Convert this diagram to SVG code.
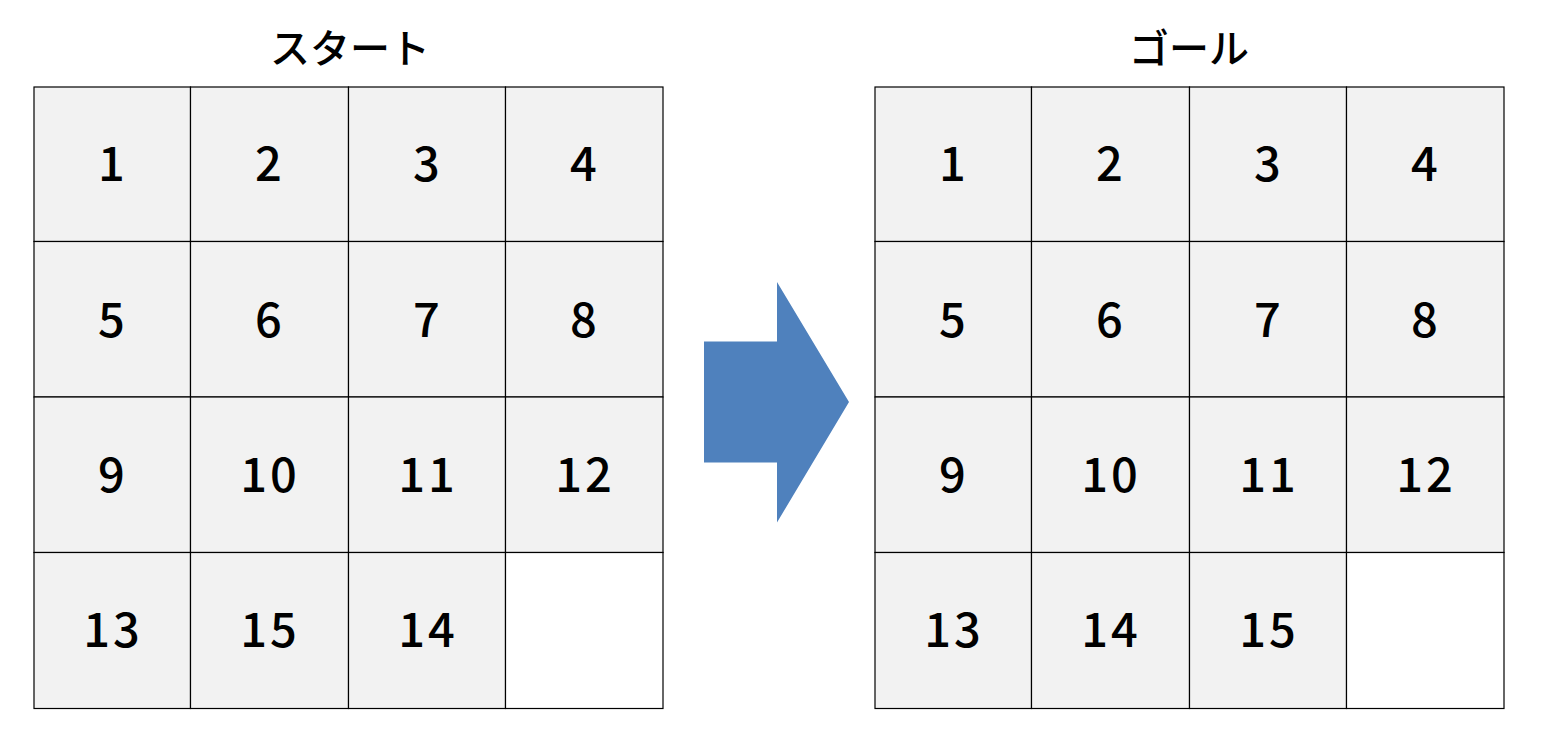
<svg xmlns="http://www.w3.org/2000/svg" width="1542" height="741" viewBox="0 0 1542 741">
<style>
.cell{fill:#F2F2F2;stroke:#000;stroke-width:1.2}
.empty{fill:#FFFFFF;stroke:#000;stroke-width:1.2}
.num{font-family:"Noto Sans CJK JP","Noto Sans",sans-serif;font-size:47px;font-weight:500;letter-spacing:3px;fill:#000;text-anchor:middle}
.title{font-family:"Noto Sans CJK JP",sans-serif;font-size:40px;font-weight:500;fill:#000;text-anchor:middle}
</style>
<rect width="1542" height="741" fill="#FFFFFF"/>
<g id="start-title"><text class="title" x="350" y="63">スタート</text></g>
<g id="goal-title"><text class="title" x="1189" y="63">ゴール</text></g>
<g id="start-grid">
<g id="s1"><rect class="cell" x="34" y="87" width="156.5" height="154.5"/><text class="num" x="113" y="181">1</text></g>
<g id="s2"><rect class="cell" x="190.5" y="87" width="158" height="154.5"/><text class="num" x="270" y="181">2</text></g>
<g id="s3"><rect class="cell" x="348.5" y="87" width="157" height="154.5"/><text class="num" x="428" y="181">3</text></g>
<g id="s4"><rect class="cell" x="505.5" y="87" width="157.5" height="154.5"/><text class="num" x="585" y="181">4</text></g>
<g id="s5"><rect class="cell" x="34" y="241.5" width="156.5" height="155.5"/><text class="num" x="113" y="337">5</text></g>
<g id="s6"><rect class="cell" x="190.5" y="241.5" width="158" height="155.5"/><text class="num" x="270" y="337">6</text></g>
<g id="s7"><rect class="cell" x="348.5" y="241.5" width="157" height="155.5"/><text class="num" x="428" y="337">7</text></g>
<g id="s8"><rect class="cell" x="505.5" y="241.5" width="157.5" height="155.5"/><text class="num" x="585" y="337">8</text></g>
<g id="s9"><rect class="cell" x="34" y="397" width="156.5" height="155.5"/><text class="num" x="113" y="492">9</text></g>
<g id="s10"><rect class="cell" x="190.5" y="397" width="158" height="155.5"/><text class="num" x="270" y="492">10</text></g>
<g id="s11"><rect class="cell" x="348.5" y="397" width="157" height="155.5"/><text class="num" x="428" y="492">11</text></g>
<g id="s12"><rect class="cell" x="505.5" y="397" width="157.5" height="155.5"/><text class="num" x="585" y="492">12</text></g>
<g id="s13"><rect class="cell" x="34" y="552.5" width="156.5" height="156"/><text class="num" x="113" y="647">13</text></g>
<g id="s15"><rect class="cell" x="190.5" y="552.5" width="158" height="156"/><text class="num" x="270" y="647">15</text></g>
<g id="s14"><rect class="cell" x="348.5" y="552.5" width="157" height="156"/><text class="num" x="428" y="647">14</text></g>
<g id="s-empty"><rect class="empty" x="505.5" y="552.5" width="157.5" height="156"/></g>
</g>
<g id="arrow"><polygon points="704,341.5 777,341.5 777,282 849,402 777,522.5 777,462.5 704,462.5" fill="#4F81BD"/></g>
<g id="goal-grid">
<g id="g1"><rect class="cell" x="875" y="87" width="156.5" height="154.5"/><text class="num" x="954" y="181">1</text></g>
<g id="g2"><rect class="cell" x="1031.5" y="87" width="158" height="154.5"/><text class="num" x="1111" y="181">2</text></g>
<g id="g3"><rect class="cell" x="1189.5" y="87" width="157" height="154.5"/><text class="num" x="1269" y="181">3</text></g>
<g id="g4"><rect class="cell" x="1346.5" y="87" width="157.5" height="154.5"/><text class="num" x="1426" y="181">4</text></g>
<g id="g5"><rect class="cell" x="875" y="241.5" width="156.5" height="155.5"/><text class="num" x="954" y="337">5</text></g>
<g id="g6"><rect class="cell" x="1031.5" y="241.5" width="158" height="155.5"/><text class="num" x="1111" y="337">6</text></g>
<g id="g7"><rect class="cell" x="1189.5" y="241.5" width="157" height="155.5"/><text class="num" x="1269" y="337">7</text></g>
<g id="g8"><rect class="cell" x="1346.5" y="241.5" width="157.5" height="155.5"/><text class="num" x="1426" y="337">8</text></g>
<g id="g9"><rect class="cell" x="875" y="397" width="156.5" height="155.5"/><text class="num" x="954" y="492">9</text></g>
<g id="g10"><rect class="cell" x="1031.5" y="397" width="158" height="155.5"/><text class="num" x="1111" y="492">10</text></g>
<g id="g11"><rect class="cell" x="1189.5" y="397" width="157" height="155.5"/><text class="num" x="1269" y="492">11</text></g>
<g id="g12"><rect class="cell" x="1346.5" y="397" width="157.5" height="155.5"/><text class="num" x="1426" y="492">12</text></g>
<g id="g13"><rect class="cell" x="875" y="552.5" width="156.5" height="156"/><text class="num" x="954" y="647">13</text></g>
<g id="g14"><rect class="cell" x="1031.5" y="552.5" width="158" height="156"/><text class="num" x="1111" y="647">14</text></g>
<g id="g15"><rect class="cell" x="1189.5" y="552.5" width="157" height="156"/><text class="num" x="1269" y="647">15</text></g>
<g id="g-empty"><rect class="empty" x="1346.5" y="552.5" width="157.5" height="156"/></g>
</g>
</svg>
